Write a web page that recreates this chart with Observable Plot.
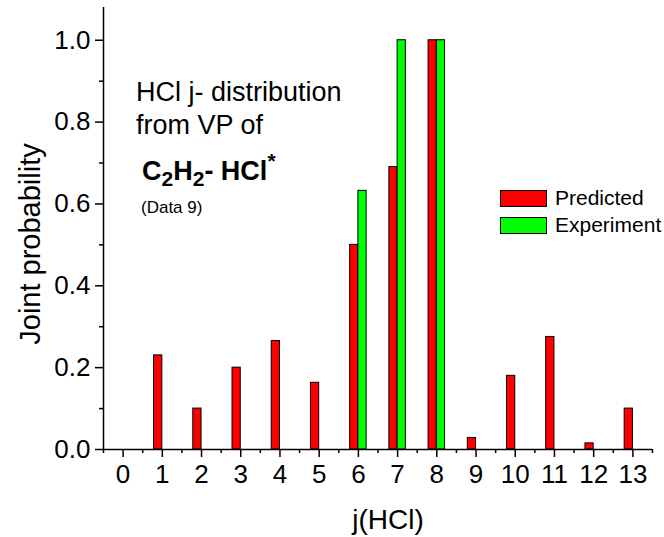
<!DOCTYPE html>
<html>
<head>
<meta charset="utf-8">
<script src="https://cdn.jsdelivr.net/npm/d3@7"></script>
<script src="https://cdn.jsdelivr.net/npm/@observablehq/plot@0.6"></script>
<style>
  html, body { margin: 0; padding: 0; background: #fff; }
  #wrap { position: relative; width: 664px; height: 537px; overflow: hidden; font-family: "Liberation Sans", Arial, sans-serif; color: #000; }
  #wrap svg { display: block; }
  .note { position: absolute; white-space: nowrap; line-height: 1; }
  .sw { position: absolute; width: 45px; height: 15px; border: 1px solid #000; }
</style>
</head>
<body>
<div id="wrap"></div>
<script>
// Data
const jLevels = [1, 2, 3, 4, 5, 6, 7, 8, 9, 10, 11, 12, 13];
const predicted = [0.23, 0.10, 0.20, 0.265, 0.163, 0.50, 0.69, 1.00, 0.028, 0.18, 0.275, 0.015, 0.10];
const expLevels = [6, 7, 8];
const experiment = [0.632, 1.00, 1.00];
const xTicks = [0, 1, 2, 3, 4, 5, 6, 7, 8, 9, 10, 11, 12, 13];
const yTicks = [0, 0.2, 0.4, 0.6, 0.8, 1.0];
const yMinor = [0.1, 0.3, 0.5, 0.7, 0.9];
const xMinor = [-0.5, 0.5, 1.5, 2.5, 3.5, 4.5, 5.5, 6.5, 7.5, 8.5, 9.5, 10.5, 11.5, 12.5, 13.5];

const predData = jLevels.map((j, i) => ({j, v: predicted[i]}));
const expData = expLevels.map((j, i) => ({j, v: experiment[i]}));
const bw = 0.21;

const chart = Plot.plot({
  width: 664,
  height: 537,
  marginLeft: 103,
  marginRight: 12,
  marginTop: 7,
  marginBottom: 88,
  style: {fontFamily: '"Liberation Sans", Arial, sans-serif', fontSize: "26px", color: "#000", background: "#fff"},
  x: {type: "linear", domain: [-0.5, 13.5]},
  y: {domain: [0, 1.08]},
  marks: [
    Plot.rectY(predData, {x1: d => d.j - bw, x2: d => d.j, y1: 0, y2: "v", fill: "#ff0000", stroke: "#000", strokeWidth: 1}),
    Plot.rectY(expData, {x1: d => d.j, x2: d => d.j + bw, y1: 0, y2: "v", fill: "#00ff00", stroke: "#000", strokeWidth: 1}),
    // tick marks
    Plot.axisX(xMinor, {tickSize: 4, text: null, strokeWidth: 1.5, label: null}),
    Plot.axisX(xTicks, {tickSize: 8, text: null, strokeWidth: 1.5, label: null}),
    Plot.axisY(yMinor, {tickSize: 4, text: null, strokeWidth: 1.5, label: null}),
    Plot.axisY(yTicks, {tickSize: 8, text: null, strokeWidth: 1.5, label: null}),
    // tick labels
    Plot.text(xTicks, {x: d => d, y: 0, dy: 25, text: d => String(d), fontSize: 26, fill: "#000", stroke: "none", fontWeight: "normal", textAnchor: "middle", lineAnchor: "middle"}),
    Plot.text(yTicks, {x: -0.5, y: d => d, dx: -13, text: d => d.toFixed(1), fontSize: 26, fill: "#000", stroke: "none", fontWeight: "normal", textAnchor: "end", lineAnchor: "middle"}),
    Plot.ruleY([0], {stroke: "#000", strokeWidth: 1.5}),
    Plot.ruleX([-0.5], {stroke: "#000", strokeWidth: 1.5})
  ]
});

const wrap = document.getElementById("wrap");
wrap.appendChild(chart);

function note(html, left, top, size, extra) {
  const d = document.createElement("div");
  d.className = "note";
  d.innerHTML = html;
  d.style.left = left + "px";
  d.style.top = top + "px";
  d.style.fontSize = size + "px";
  if (extra) Object.assign(d.style, extra);
  wrap.appendChild(d);
  return d;
}
// axis titles
note("j(HCl)", 388, 520, 28, {transform: "translate(-50%, -50%)"});
note("Joint probability", 30, 244, 29, {transform: "translate(-50%, -50%) rotate(-90deg)"});

// annotation
note("HCl j- distribution", 136, 79, 27);
note("from VP of", 136, 112, 27);
note('C<sub style="font-size:21px;vertical-align:-6px">2</sub>H<sub style="font-size:21px;vertical-align:-6px">2</sub>- HCl<sup style="font-size:21px;vertical-align:12px">*</sup>', 142, 150, 27, {fontWeight: "bold"});
note("(Data 9)", 141, 199, 17);

// Legend
const legendItems = [["Predicted", "#ff0000"], ["Experiment", "#00ff00"]];
legendItems.forEach(([name, color], i) => {
  const s = document.createElement("div");
  s.className = "sw";
  s.style.left = "500px";
  s.style.top = (190 + i * 26.5) + "px";
  s.style.background = color;
  wrap.appendChild(s);
  note(name, 555, 187 + i * 26.5, 21);
});
</script>
</body>
</html>
